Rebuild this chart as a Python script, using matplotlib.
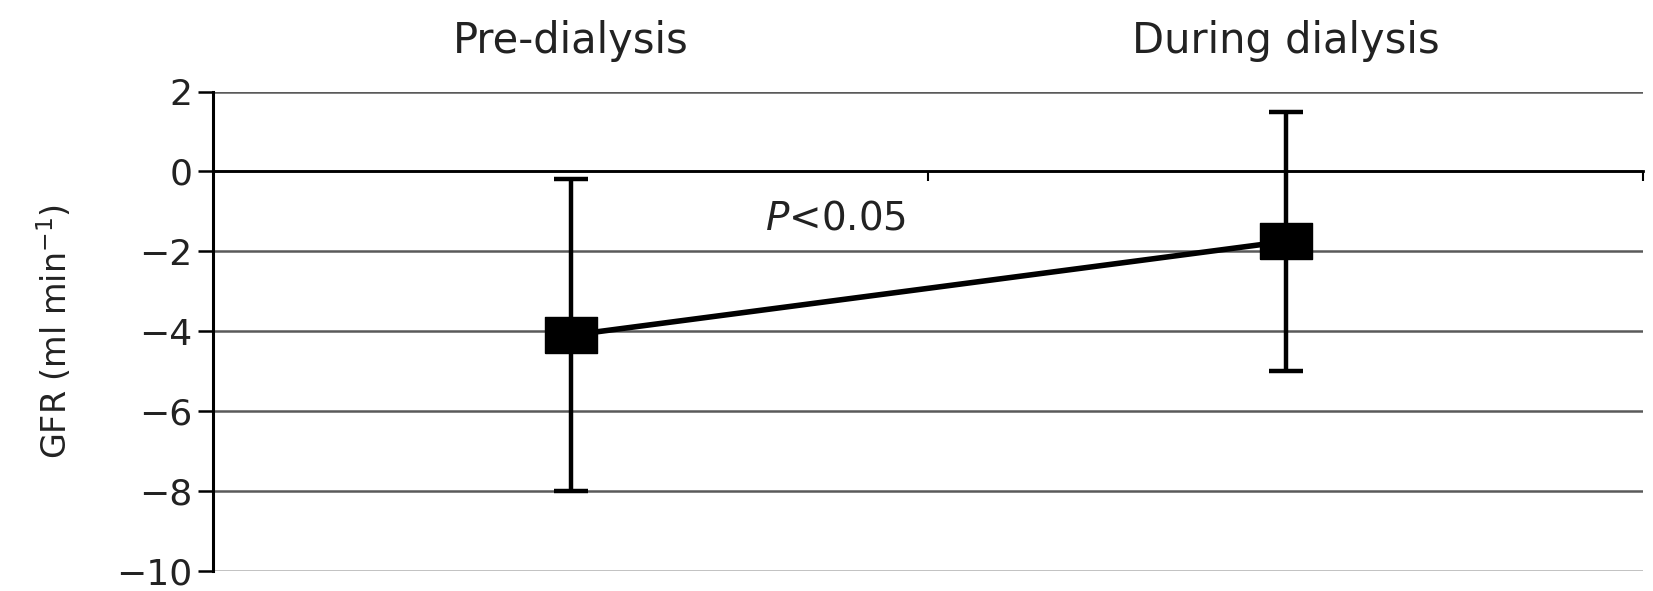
import numpy as np
import matplotlib.pyplot as plt

# GFR change, mean with error bars
groups = ["Pre-dialysis", "During dialysis"]
mean_gfr = [-4.1, -1.75]
err_low = [-8.0, -5.0]
err_high = [-0.2, 1.5]
yticks = [2, 0, -2, -4, -6, -8, -10]

plt.rcParams['font.family'] = ['DejaVu Sans']

fig = plt.figure(figsize=(16.53, 5.91), dpi=100)
ax = fig.add_axes([0.129, 0.034, 0.865, 0.811])

x = np.array([0.5, 1.5])
mean_gfr = np.array(mean_gfr)
yerr = [mean_gfr - np.array(err_low), np.array(err_high) - mean_gfr]

# horizontal gridlines
for yv in yticks:
    ax.axhline(yv, color='#5a5a5a' if yv > -10 else '#b0b0b0', lw=1.8, zorder=1)

box = [(-1.43, -1), (1.43, -1), (1.43, 1), (-1.43, 1), (-1.43, -1)]
ax.errorbar(x, mean_gfr, yerr=yerr, fmt='none', ecolor='black', elinewidth=3.2,
            capsize=12.5, capthick=3.2, zorder=3)
ax.plot(x, mean_gfr, color='black', lw=4, marker=box, markersize=38,
        markerfacecolor='black', markeredgecolor='black', zorder=4)

ax.text(0.772, -1.18, r"$P$<0.05", fontsize=28, va='center', ha='left',
        color='#222222')

ax.set_xlim(0, 2)
ax.set_ylim(-10, 2)
ax.set_yticks(yticks)
ax.set_yticklabels([str(v).replace('-', '\u2212') for v in yticks], fontsize=26,
                   color='#222222')
ax.tick_params(axis='y', direction='out', length=11, width=1.8, pad=4)
ax.set_ylabel("GFR (ml min$^{-1}$)", fontsize=24, labelpad=30, color='#222222')

# x axis runs along zero
ax.spines['top'].set_visible(False)
ax.spines['right'].set_visible(False)
ax.spines['bottom'].set_position(('data', 0))
ax.spines['bottom'].set_linewidth(2)
ax.spines['left'].set_linewidth(2.2)
ax.set_xticks([1, 2])
ax.set_xticklabels([])
ax.tick_params(axis='x', direction='out', length=7, width=1.5)

top = ax.secondary_xaxis('top')
top.set_xticks(x)
top.set_xticklabels(groups, fontsize=30, color='#222222')
top.tick_params(length=0, pad=21)
top.spines['top'].set_visible(False)

fig.savefig('out.png', dpi=100)
